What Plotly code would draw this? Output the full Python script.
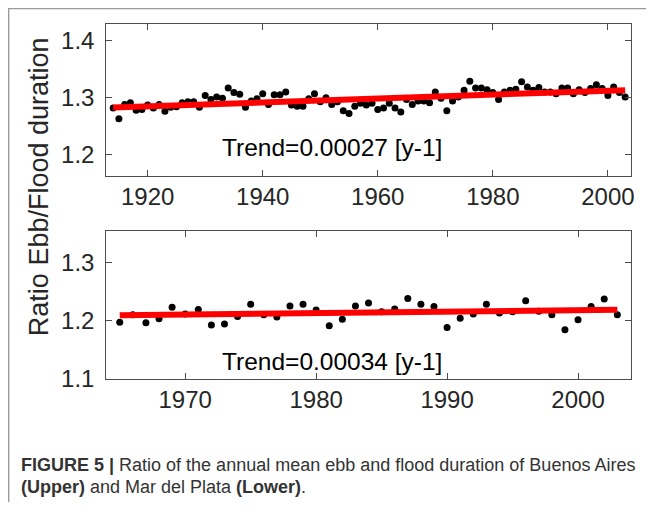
import plotly.graph_objects as go

# target screen size and page offset (default body margin)
SW, SH = 657, 523
OFF = 8
W, H = SW - 2 * OFF, SH - 2 * OFF

# ---------------- data ----------------
years_ba = list(range(1914, 2004))
ratio_ba = [1.282, 1.263, 1.288, 1.291, 1.278, 1.279, 1.287, 1.282, 1.288, 1.276,
            1.283, 1.284, 1.291, 1.293, 1.293, 1.283, 1.304, 1.297, 1.301, 1.299,
            1.317, 1.309, 1.306, 1.283, 1.294, 1.298, 1.307, 1.288, 1.305, 1.305,
            1.310, 1.287, 1.285, 1.285, 1.298, 1.307, 1.293, 1.300, 1.288, 1.293,
            1.277, 1.272, 1.285, 1.290, 1.287, 1.290, 1.279, 1.282, 1.290, 1.282,
            1.275, 1.297, 1.288, 1.294, 1.294, 1.291, 1.310, 1.299, 1.277, 1.294,
            1.301, 1.313, 1.329, 1.317, 1.317, 1.314, 1.309, 1.297, 1.310, 1.313,
            1.315, 1.328, 1.319, 1.313, 1.318, 1.310, 1.310, 1.307, 1.317, 1.317,
            1.307, 1.314, 1.309, 1.316, 1.323, 1.316, 1.304, 1.319, 1.309, 1.301]
trend_ba_years = [1914, 2003]
trend_ba = [1.2828, 1.3133]

years_mdp = list(range(1965, 2004))
ratio_mdp = [1.197, 1.210, 1.196, 1.203, 1.223, 1.211, 1.219, 1.192, 1.194, 1.207,
             1.228, 1.210, 1.206, 1.225, 1.228, 1.218, 1.191, 1.202, 1.225, 1.230,
             1.215, 1.220, 1.238, 1.228, 1.224, 1.188, 1.204, 1.211, 1.228, 1.213,
             1.215, 1.234, 1.216, 1.210, 1.184, 1.201, 1.224, 1.237, 1.210]
trend_mdp_years = [1965, 2003]
trend_mdp = [1.2091, 1.2186]

top_xticks = [1920, 1940, 1960, 1980, 2000]
top_yticks = [1.2, 1.3, 1.4]
bot_xticks = [1970, 1980, 1990, 2000]
bot_yticks = [1.1, 1.2, 1.3]

trend_top_label = "Trend=0.00027 [y-1]"
trend_bot_label = "Trend=0.00034 [y-1]"
y_title = "Ratio Ebb/Flood duration"
caption1 = "<b>FIGURE 5 |</b> Ratio of the annual mean ebb and flood duration of Buenos Aires"
caption2 = "<b>(Upper)</b> and Mar del Plata <b>(Lower)</b>."

# ---------------- figure ----------------
FONT = "Liberation Sans, Arial, sans-serif"
TXT = "#262626"
AX = "#4d4d4d"

def px_x(p):
    return (p - OFF) / W

def px_y(p):
    return 1 - (p - OFF) / H

fig = go.Figure()

fig.add_trace(go.Scatter(x=years_ba, y=ratio_ba, mode="markers",
                         marker=dict(color="black", size=7), xaxis="x", yaxis="y",
                         showlegend=False))
fig.add_trace(go.Scatter(x=trend_ba_years, y=trend_ba, mode="lines",
                         line=dict(color="#ff0000", width=6), xaxis="x", yaxis="y",
                         showlegend=False))
fig.add_trace(go.Scatter(x=years_mdp, y=ratio_mdp, mode="markers",
                         marker=dict(color="black", size=7), xaxis="x2", yaxis="y2",
                         showlegend=False))
fig.add_trace(go.Scatter(x=trend_mdp_years, y=trend_mdp, mode="lines",
                         line=dict(color="#ff0000", width=6), xaxis="x2", yaxis="y2",
                         showlegend=False))

common = dict(showline=True, linecolor=AX, linewidth=1, mirror="ticks",
              ticks="inside", ticklen=6, tickcolor=AX, tickwidth=1,
              showgrid=False, zeroline=False,
              tickfont=dict(family=FONT, size=24, color=TXT))

xdom = [px_x(106.7), px_x(634)]

fig.update_layout(
    width=W, height=H,
    margin=dict(l=0, r=0, t=0, b=0),
    paper_bgcolor="white", plot_bgcolor="white",
    hovermode=False,
    modebar=dict(bgcolor="rgba(0,0,0,0)", color="rgba(0,0,0,0)",
                 activecolor="rgba(0,0,0,0)"),
    xaxis=dict(domain=xdom, range=[1912.8, 2004.03], tickvals=top_xticks,
               anchor="y", **common),
    yaxis=dict(domain=[px_y(180), px_y(24.3)], range=[1.1628, 1.43],
               tickvals=top_yticks, tickformat=".1f", anchor="x",
               ticklabelstandoff=6, **common),
    xaxis2=dict(domain=xdom, range=[1963.97, 2004.05], tickvals=bot_xticks,
                anchor="y2", **common),
    yaxis2=dict(domain=[px_y(388.3), px_y(236.7)], range=[1.0995, 1.355],
                tickvals=bot_yticks, tickformat=".1f", anchor="x2",
                ticklabelstandoff=6, **common),
)

annotations = [
    dict(text=y_title, x=px_x(38.5), y=px_y(191.5), xref="paper", yref="paper",
         textangle=-90, showarrow=False, xanchor="center", yanchor="middle",
         font=dict(family=FONT, size=27, color=TXT)),
    dict(text=trend_top_label, x=px_x(333.5), y=px_y(151), xref="paper", yref="paper",
         showarrow=False, xanchor="center", yanchor="middle",
         font=dict(family=FONT, size=24.5, color="black")),
    dict(text=trend_bot_label, x=px_x(333.5), y=px_y(371), xref="paper", yref="paper",
         showarrow=False, xanchor="center", yanchor="middle",
         font=dict(family=FONT, size=24.5, color="black")),
    dict(text=caption1, x=px_x(19), y=px_y(477), xref="paper", yref="paper",
         showarrow=False, xanchor="left", yanchor="middle",
         font=dict(family=FONT, size=18, color="#333333")),
    dict(text=caption2, x=px_x(19), y=px_y(500), xref="paper", yref="paper",
         showarrow=False, xanchor="left", yanchor="middle",
         font=dict(family=FONT, size=18, color="#333333")),
]
fig.update_layout(annotations=annotations)

fig.update_layout(shapes=[
    dict(type="line", xref="paper", yref="paper", x0=0.001, x1=0.001,
         y0=0, y1=1, line=dict(color="#9a9a9a", width=1.5)),
    dict(type="line", xref="paper", yref="paper", x0=0, x1=1,
         y0=0.999, y1=0.999, line=dict(color="#9a9a9a", width=1.5)),
])

fig.write_html("out.html")
